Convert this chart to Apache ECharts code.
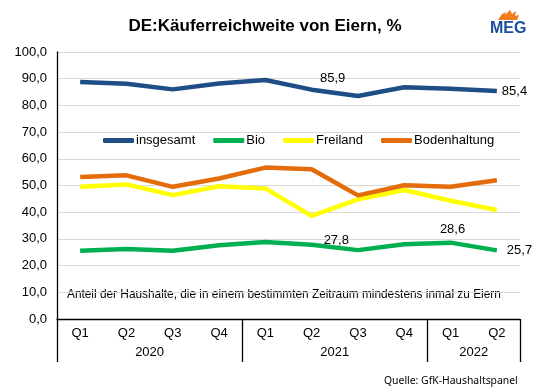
<!DOCTYPE html>
<html>
<head>
<meta charset="utf-8">
<script src="https://cdn.jsdelivr.net/npm/echarts@6/dist/echarts.min.js"></script>
<style>html,body{margin:0;padding:0;background:#fff}#c{width:539px;height:391px}</style>
</head>
<body>
<div id="c"></div>
<script>
const quarters = ['Q1','Q2','Q3','Q4','Q1','Q2','Q3','Q4','Q1','Q2'];
const years = ['2020','2021','2022'];
const yearCenters = [2, 6, 9];
const yearBounds = [0, 4, 8, 10];
const insgesamt = [88.8, 88.1, 86.0, 88.2, 89.5, 85.9, 83.5, 86.8, 86.2, 85.4];
const bio = [25.6, 26.2, 25.6, 27.6, 28.8, 27.8, 25.8, 28.0, 28.6, 25.7];
const freiland = [49.5, 50.4, 46.4, 49.7, 48.9, 38.6, 44.8, 48.3, 44.3, 40.8];
const bodenhaltung = [53.2, 53.8, 49.5, 52.6, 56.7, 56.1, 46.3, 50.1, 49.5, 52.0];
const seriesNames = ['insgesamt','Bio','Freiland','Bodenhaltung'];
const colors = ['#1F4E86','#00B050','#FFFF00','#E46C0A'];

const fmt = v => v.toFixed(1).replace('.', ',');
const FONT = 'Liberation Sans, Arial, sans-serif';

function lbl(pos, align) {
  return {show: true, position: pos, align: align, verticalAlign: 'middle', color: '#000', fontSize: 13, fontFamily: FONT,
          formatter: p => fmt(p.value)};
}
function mkSeries(name, data, color, labels) {
  return {
    name: name, type: 'line', symbol: 'circle', symbolSize: 0.01, showSymbol: true, smooth: false,
    lineStyle: {width: 4.5, color: color}, itemStyle: {color: color},
    emphasis: {disabled: true},
    label: {show: false},
    labelLayout: {hideOverlap: false},
    data: data.map((v, i) => {
      const l = labels[i];
      return l ? {value: v, label: lbl(l[0], l[1])} : v;
    })
  };
}

const chart = echarts.init(document.getElementById('c'), null, {renderer: 'canvas'});
chart.setOption({
  animation: false,
  backgroundColor: '#fff',
  title: {text: 'DE:Käuferreichweite von Eiern, %', left: 260, top: 13, textAlign: 'center',
          textStyle: {fontFamily: FONT, fontSize: 17, fontWeight: 'bold', color: '#000'}},
  legend: {
    left: 103, top: 134, padding: 0, itemWidth: 31, itemHeight: 5, itemGap: 18, icon: 'roundRect',
    data: seriesNames,
    textStyle: {fontFamily: FONT, fontSize: 13, color: '#000', padding: [0,0,0,-3]}
  },
  grid: {left: 57, right: 19, top: 52, bottom: 72, containLabel: false},
  xAxis: [{
    type: 'category', data: quarters, boundaryGap: true,
    axisLine: {show: true, lineStyle: {color: '#000', width: 1.3}},
    axisTick: {show: false},
    axisLabel: {color: '#000', fontSize: 13, fontFamily: FONT, margin: 8, interval: 0},
    splitLine: {show: false}
  }, {
    type: 'value', min: 0, max: 10, position: 'bottom',
    axisLine: {show: false},
    axisTick: {show: true, customValues: yearBounds, length: 43, lineStyle: {color: '#000', width: 1.3}},
    axisLabel: {show: true, customValues: yearCenters, margin: 27, color: '#000', fontSize: 13, fontFamily: FONT,
                formatter: v => years[yearCenters.indexOf(v)]},
    splitLine: {show: false}
  }],
  yAxis: {
    type: 'value', min: 0, max: 100, interval: 10,
    axisLine: {show: true, lineStyle: {color: '#000', width: 1.3}},
    axisTick: {show: false},
    axisLabel: {color: '#000', fontSize: 13, fontFamily: FONT, margin: 10, formatter: v => fmt(v)},
    splitLine: {show: true, lineStyle: {color: '#D9D9D9', width: 1}}
  },
  series: [
    mkSeries('insgesamt', insgesamt, colors[0], {5: [[21, -11], 'center'], 9: [[5, 0], 'left']}),
    mkSeries('Bio', bio, colors[1], {5: [[12, -4], 'left'], 8: [[2, -13], 'center'], 9: [[10, 0], 'left']}),
    mkSeries('Freiland', freiland, colors[2], {}),
    mkSeries('Bodenhaltung', bodenhaltung, colors[3], {})
  ],
  graphic: [
    {type: 'text', left: 67, top: 289, style: {text: 'Anteil der Haushalte, die in einem bestimmten Zeitraum mindestens inmal zu Eiern',
      font: '11.85px ' + FONT, fill: '#000'}},
    {type: 'text', left: 384, top: 376, style: {text: 'Quelle: GfK-Haushaltspanel', font: '10.4px "Noto Sans", sans-serif', fill: '#000'}},
    {type: 'text', left: 490, top: 21, style: {text: 'MEG', font: 'bold 16px ' + FONT, fill: '#1A4E9A'}},
    {type: 'polygon', shape: {points: [[498,20],[502,14],[506,12],[505,15],[510,10],[512,14],[516,11],[515,16],[519,15],[517,20]]},
     style: {fill: '#F07D1A'}}
  ]
});
</script>
</body>
</html>
